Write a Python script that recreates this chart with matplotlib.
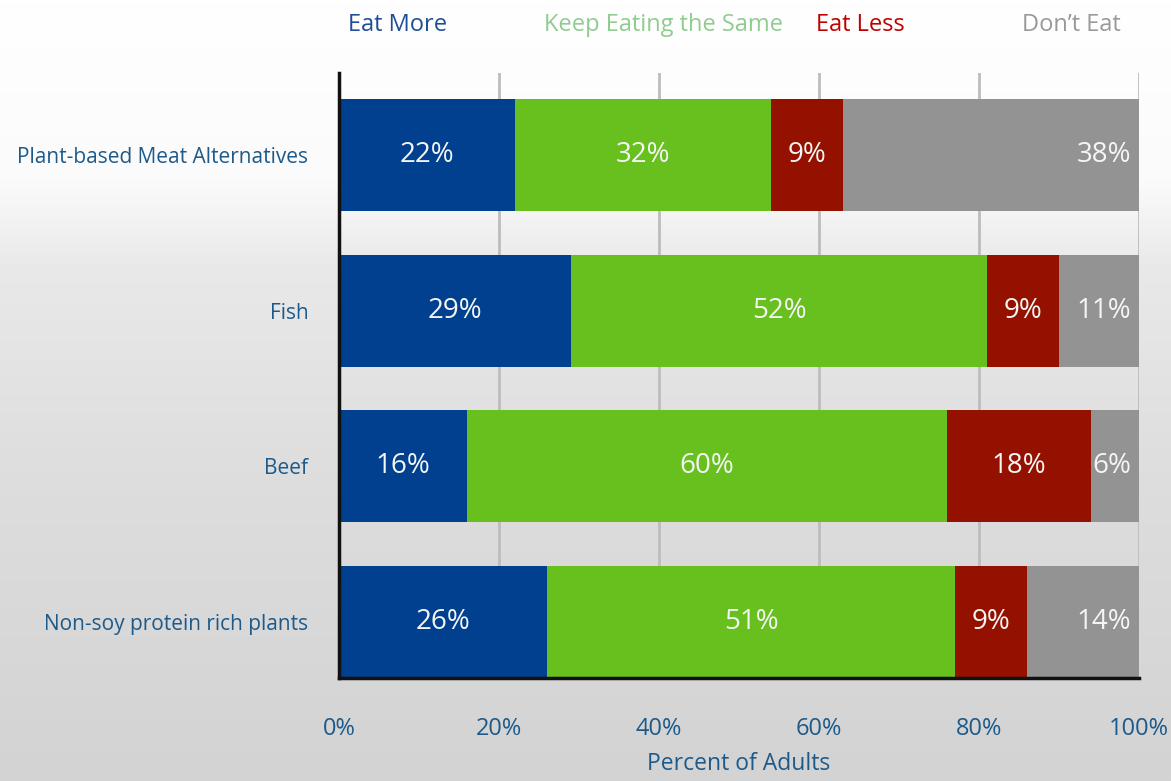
import numpy as np
import matplotlib.pyplot as plt
from matplotlib.colors import LinearSegmentedColormap

plt.rcParams['font.family'] = ['Open Sans', 'DejaVu Sans']

# survey data
categories = ['Plant-based Meat Alternatives', 'Fish', 'Beef', 'Non-soy protein rich plants']
series = ['Eat More', 'Keep Eating the Same', 'Eat Less', 'Don\u2019t Eat']
eat_more = [22, 29, 16, 26]
keep_same = [32, 52, 60, 51]
eat_less = [9, 9, 18, 9]
dont_eat = [38, 11, 6, 14]
xticks = [0, 20, 40, 60, 80, 100]
xtick_labels = ['0%', '20%', '40%', '60%', '80%', '100%']

bar_colors = ['#00408f', '#68c01e', '#941100', '#939393']
head_colors = ['#1f4e99', '#8fcc8f', '#c00000', '#999999']
text_blue = '#1d5a8a'

fig = plt.figure(figsize=(11.71, 7.81), dpi=100)

# backdrop: white at top fading to light grey
bg = fig.add_axes([0, 0, 1, 1], zorder=-10)
cmap = LinearSegmentedColormap.from_list(
    'bg', [(0.0, '#ffffff'), (0.23, '#fbfbfb'), (0.34, '#e9e9e9'),
           (0.6, '#dedede'), (1.0, '#d3d3d3')])
bg.imshow(np.linspace(0, 1, 400).reshape(-1, 1), aspect='auto', cmap=cmap,
          extent=[0, 1, 0, 1], origin='upper')
bg.axis('off')

ax = fig.add_axes([339 / 1171, 1 - 678 / 781, 800 / 1171, (678 - 73) / 781])
ax.patch.set_alpha(0)

y = np.arange(len(categories))
values = [eat_more, keep_same, eat_less, dont_eat]
left = np.zeros(len(categories))
for i, (vals, col) in enumerate(zip(values, bar_colors)):
    vals = np.array(vals, dtype=float)
    ax.barh(y, vals, left=left, height=0.72, color=col, zorder=3)
    for yy, l, v in zip(y, left, vals):
        if i == 3:
            ax.text(min(l + v, 100) - 1.0, yy, f'{v:.0f}%', ha='right', va='center',
                    color='#f5f5f5', fontsize=20, zorder=4)
        else:
            ax.text(l + v / 2, yy, f'{v:.0f}%', ha='center', va='center',
                    color='#f5f5f5', fontsize=20, zorder=4)
    left += vals

ax.set_xlim(0, 100)
ax.set_ylim(3.36, -0.526)
ax.set_xticks(xticks)
ax.set_xticklabels(xtick_labels, color=text_blue, fontsize=17)
ax.set_yticks(y)
ax.set_yticklabels(categories, color=text_blue, fontsize=15)
ax.tick_params(length=0, pad=22, axis='y')
ax.tick_params(length=0, pad=28, axis='x')
ax.xaxis.grid(True, color='#bdbdbd', linewidth=2, zorder=0)
ax.set_axisbelow(True)
for s in ['top', 'right']:
    ax.spines[s].set_visible(False)
for s in ['left', 'bottom']:
    ax.spines[s].set_linewidth(2.5)
    ax.spines[s].set_color('#111111')
    ax.spines[s].set_zorder(5)
ax.set_xlabel('Percent of Adults', color=text_blue, fontsize=16.5, labelpad=8)

# series headers across the top
head_x = [398, 663, 860, 1071]
for name, col, hx in zip(series, head_colors, head_x):
    fig.text(hx / 1171, 1 - 25 / 781, name, ha='center', va='center',
             color=col, fontsize=17)

fig.savefig('out.png', dpi=100)
